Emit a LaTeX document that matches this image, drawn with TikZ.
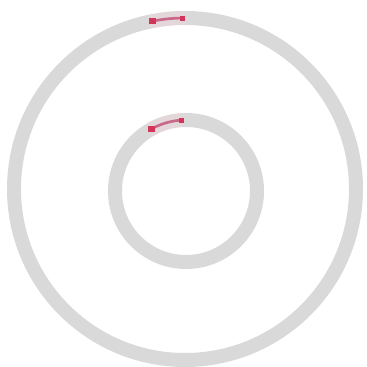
\documentclass[tikz,border=0pt]{standalone}
\usepackage{xcolor}
\definecolor{track}{HTML}{D9D9D9}
\definecolor{mark}{HTML}{D3345A}
\definecolor{markline}{HTML}{C9688A}
\usetikzlibrary{calc}
\tikzset{
  ring/.style={draw=track,line width=0.42cm},
  seg/.style={draw=markline,line width=0.08cm},
  halo/.style={draw=mark!20,line width=0.42cm,opacity=0.35},
  dotend/.style={fill=mark,minimum size=0.2cm,inner sep=0pt,rectangle},
}
\begin{document}
\begin{tikzpicture}[x=0.03cm,y=0.03cm]
\useasboundingbox (0,0) rectangle (366,367);
\coordinate (co) at (185,178);
\coordinate (ci) at (186,176);
% rings
\draw[ring] (co) circle (171);
\draw[ring] (ci) circle (71);
% red segments
\draw[halo] ($(co)+(102:171)$) arc (102:90:171);
\draw[halo] ($(ci)+(121:71)$) arc (121:93:71);
\draw[seg] ($(co)+(101:171)$) arc (101:91:171);
\draw[seg] ($(ci)+(119:71)$) arc (119:94:71);
\node[dotend] (oa) at ($(co)+(101:171)$) {};
\node[dotend,minimum size=0.15cm] (ob) at ($(co)+(91:171)$) {};
\node[dotend] (ia) at ($(ci)+(119:71)$) {};
\node[dotend,minimum size=0.15cm] (ib) at ($(ci)+(94:71)$) {};
\end{tikzpicture}
\end{document}
